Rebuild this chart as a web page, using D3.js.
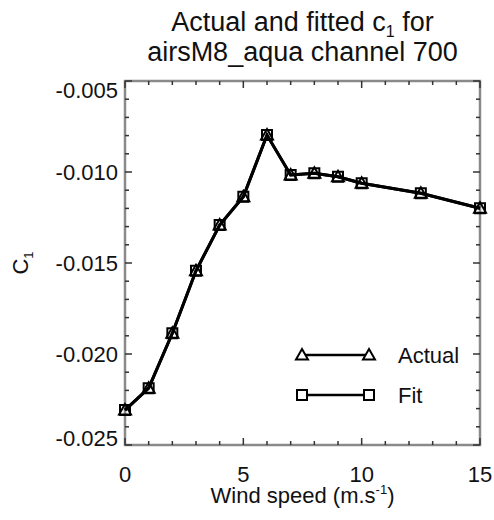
<!DOCTYPE html>
<html>
<head>
<meta charset="utf-8">
<script src="https://cdn.jsdelivr.net/npm/d3@7"></script>
<style>
  body { margin: 0; background: #fff; }
  text { font-family: "Liberation Sans", Arial, sans-serif; fill: #111; }
</style>
</head>
<body>
<div id="chart"></div>
<script>
var windSpeed = [0, 1, 2, 3, 4, 5, 6, 7, 8, 9, 10, 12.5, 15];
var actual = [-0.02308, -0.02188, -0.01886, -0.01543, -0.01291, -0.01136, -0.00797,
              -0.01016, -0.01007, -0.01026, -0.01062, -0.01117, -0.01199];
var fit = [-0.02308, -0.02188, -0.01886, -0.01543, -0.01291, -0.01136, -0.00797,
           -0.01016, -0.01007, -0.01026, -0.01062, -0.01117, -0.01199];
var xTicks = [0, 5, 10, 15];
var yTicks = [-0.025, -0.020, -0.015, -0.010, -0.005];
var legendNames = ["Actual", "Fit"];

var width = 494;
var height = 520;
var pLeft = 125, pRight = 480, pTop = 81, pBottom = 445;

var x = d3.scaleLinear().domain([0, 15]).range([pLeft, pRight]);
var y = d3.scaleLinear().domain([-0.025, -0.005]).range([pBottom, pTop]);

var svg = d3.select("#chart")
  .append("svg")
  .attr("width", width)
  .attr("height", height);

/* title */
var title = svg.append("text")
  .attr("text-anchor", "middle")
  .style("font-size", "27px");
var t1 = title.append("tspan").attr("x", (pLeft + pRight) / 2).attr("y", 31);
t1.append("tspan").text("Actual and fitted c");
t1.append("tspan").text("1").style("font-size", "16px").attr("dy", 6);
t1.append("tspan").text(" for").attr("dy", -6);
title.append("tspan").attr("x", (pLeft + pRight) / 2).attr("y", 61)
  .text("airsM8_aqua channel 700");

/* frame */
svg.append("rect")
  .attr("x", pLeft).attr("y", pTop)
  .attr("width", pRight - pLeft).attr("height", pBottom - pTop)
  .attr("fill", "none")
  .attr("stroke", "#8a8a8a")
  .attr("stroke-width", 2.5);

/* ticks, pointing inward */
var xMinor = d3.range(0, 16, 1);
var yMinor = d3.range(0, 21).map((i) => -0.025 + i * 0.001);
var ticks = svg.append("g").attr("stroke", "#333").attr("stroke-width", 1.5);
xMinor.forEach(function (v) {
  var len = v % 5 === 0 ? 7 : 4;
  ticks.append("line").attr("x1", x(v)).attr("x2", x(v)).attr("y1", pBottom).attr("y2", pBottom - len);
  ticks.append("line").attr("x1", x(v)).attr("x2", x(v)).attr("y1", pTop).attr("y2", pTop + len);
});
yMinor.forEach(function (v, i) {
  var len = i % 5 === 0 ? 7 : 4;
  ticks.append("line").attr("y1", y(v)).attr("y2", y(v)).attr("x1", pLeft).attr("x2", pLeft + len);
  ticks.append("line").attr("y1", y(v)).attr("y2", y(v)).attr("x1", pRight).attr("x2", pRight - len);
});

/* tick labels */
svg.selectAll(".xlab")
  .data(xTicks)
  .enter()
  .append("text")
  .attr("class", "xlab")
  .attr("x", (d) => x(d))
  .attr("y", pBottom + 37)
  .attr("text-anchor", "middle")
  .style("font-size", "22px")
  .text((d) => d);

svg.selectAll(".ylab")
  .data(yTicks)
  .enter()
  .append("text")
  .attr("class", "ylab")
  .attr("x", pLeft - 7)
  .attr("y", (d) => y(d))
  .attr("dy", (d, i) => i === 0 ? "0.05em" : i === yTicks.length - 1 ? "0.75em" : "0.37em")
  .attr("text-anchor", "end")
  .style("font-size", "22px")
  .text((d) => d3.format(".3f")(d).replace("−", "-"));

/* axis titles */
var xt = svg.append("text")
  .attr("x", (pLeft + pRight) / 2)
  .attr("y", 503)
  .attr("text-anchor", "middle")
  .style("font-size", "22px");
xt.append("tspan").text("Wind speed (m.s");
xt.append("tspan").text("-1").style("font-size", "13px").attr("dy", -9);
xt.append("tspan").text(")").attr("dy", 9);

var yt = svg.append("text")
  .attr("transform", "translate(28," + (pTop + pBottom) / 2 + ") rotate(-90)")
  .attr("text-anchor", "middle")
  .style("font-size", "22px");
yt.append("tspan").text("C");
yt.append("tspan").text("1").style("font-size", "13px").attr("dy", 5);

/* lines and markers */
var triangle = "M0,-6L6,4.5L-6,4.5Z";
var square = "M-5,-5H5V5H-5Z";

var line = d3.line()
  .x((d, i) => x(windSpeed[i]))
  .y((d) => y(d));

var series = [
  { name: legendNames[0], values: actual, marker: triangle },
  { name: legendNames[1], values: fit, marker: square }
];

series.forEach(function (s) {
  svg.append("path")
    .attr("d", line(s.values))
    .attr("fill", "none")
    .attr("stroke", "#000")
    .attr("stroke-width", 3);
});
series.forEach(function (s) {
  svg.append("g")
    .selectAll("path")
    .data(s.values)
    .enter()
    .append("path")
    .attr("d", s.marker)
    .attr("transform", (d, i) => "translate(" + x(windSpeed[i]) + "," + y(d) + ")")
    .attr("fill", "none")
    .attr("stroke", "#000")
    .attr("stroke-width", 2);
});

/* legend */
var legend = svg.append("g");
series.forEach(function (s, i) {
  var ly = 355 + i * 40;
  legend.append("line")
    .attr("x1", 302).attr("x2", 369)
    .attr("y1", ly).attr("y2", ly)
    .attr("stroke", "#000").attr("stroke-width", 2.5);
  [302, 369].forEach(function (mx) {
    legend.append("path")
      .attr("d", s.marker)
      .attr("transform", "translate(" + mx + "," + ly + ")")
      .attr("fill", "#fff")
      .attr("stroke", "#000")
      .attr("stroke-width", 2);
  });
  legend.append("text")
    .attr("x", 398)
    .attr("y", ly)
    .attr("dy", "0.37em")
    .style("font-size", "22px")
    .text(s.name);
});
</script>
</body>
</html>
